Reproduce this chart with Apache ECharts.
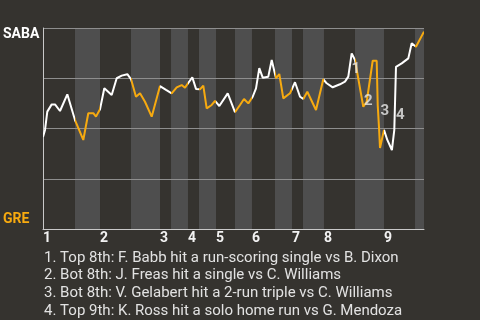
<!DOCTYPE html>
<html>
<head>
<meta charset="utf-8">
<script src="https://cdn.jsdelivr.net/npm/echarts@6/dist/echarts.min.js"></script>
<style>
html,body{margin:0;padding:0;background:#35332f;}
#c{width:480px;height:320px;}
</style>
</head>
<body>
<div id="c"></div>
<script>
// Innings (x axis labels) and half-inning boundaries, in play-index units
const innings = ['1','2','3','4','5','6','7','8','9'];
const inningStarts = [0, 16.16, 33.17, 41.10, 49.04, 59.24, 70.58, 79.65, 96.66];
const halfStarts = [9.07, 24.94, 36.29, 44.22, 54.42, 65.76, 73.70, 88.44, 105.45];
const gameEnd = 108;

// Win probability for SABA (%) at each play
const playIndex = [0, 0.57, 1.22, 2.47, 3.40, 4.82, 6.89, 9.07, 11.42, 12.84,
  14.26, 15.02, 16.16, 17.38, 19.47, 20.89, 22.31, 23.9, 24.94, 26.36,
  27.5, 28.91, 30.81, 33.17, 34.87, 36.48, 37.9, 39.32, 40.25, 42.32,
  43.37, 44.5, 45.44, 46.4, 47.82, 48.76, 49.98, 52.36, 54.42, 55.84,
  56.98, 58.2, 59.44, 60.38, 61.31, 62.28, 63.86, 64.83, 66.05, 66.98,
  68.12, 70.01, 71.43, 72.86, 73.79, 74.92, 77.39, 79.45, 80.42, 82.12,
  84.19, 85.6, 86.54, 87.5, 88.44, 90.79, 91.76, 93.46, 94.59, 94.88,
  95.24, 95.53, 96.66, 97.6, 98.9, 99.58, 100.06, 101.68, 103.55, 104.51,
  105.73, 108];
const sabaWinProb = [45.8, 49.3, 58.4, 62.0, 62.0, 58.7, 67.0, 54.2, 44.3, 57.6,
  57.6, 55.9, 59.6, 70.0, 66.7, 75.0, 76.3, 77.0, 74.6, 65.8,
  67.5, 63.3, 55.9, 71.1, 69.2, 67.5, 70.5, 71.6, 70.3, 75.5,
  69.7, 69.5, 71.3, 60.0, 61.7, 63.7, 61.2, 67.5, 58.1, 61.7,
  64.7, 62.5, 65.8, 70.0, 80.0, 75.3, 75.8, 84.1, 75.0, 77.1,
  65.0, 67.5, 73.0, 65.8, 64.7, 68.3, 59.2, 74.5, 72.5, 70.5,
  72.0, 73.3, 75.8, 87.4, 84.1, 60.8, 63.3, 83.7, 83.7, 61.7,
  50.7, 40.3, 49.3, 44.3, 39.3, 49.3, 80.7, 82.4, 84.9, 92.4,
  90.7, 98.2];

// Key events: index of the play and note text
const eventPlay = [63, 65, 69, 75];
const eventNotes = [
  '1. Top 8th: F. Babb hit a run-scoring single vs B. Dixon',
  '2. Bot 8th: J. Freas hit a single vs C. Williams',
  '3. Bot 8th: V. Gelabert hit a 2-run triple vs C. Williams',
  '4. Top 9th: K. Ross hit a solo home run vs G. Mendoza'
];
const teamTop = 'SABA';
const teamBottom = 'GRE';

const WHITE = '#ffffff';
const ORANGE = '#f7aa0f';
const eventLabelOffsets = [[4, 16], [5, -6], [7, 6], [6, -15]];

const lineData = playIndex.map((x, i) => [x, sabaWinProb[i]]);

const pieces = [];
const bands = [];
for (let i = 0; i < innings.length; i++) {
  const next = i + 1 < inningStarts.length ? inningStarts[i + 1] : gameEnd;
  pieces.push({gte: inningStarts[i], lt: halfStarts[i], color: WHITE});
  pieces.push({gte: halfStarts[i], lte: next, color: ORANGE});
  bands.push([{xAxis: halfStarts[i]}, {xAxis: next}]);
}

function inningLabel(v) {
  let best = -1, bd = Infinity;
  inningStarts.forEach((s, k) => { const d = Math.abs(s - v); if (d < bd) { bd = d; best = k; } });
  return bd < 0.5 ? innings[best] : '';
}

const chart = echarts.init(document.getElementById('c'), null, {renderer: 'canvas'});
chart.setOption({
  animation: false,
  backgroundColor: '#35332f',
  textStyle: {fontFamily: 'Roboto'},
  title: {
    text: eventNotes.join('\n'),
    left: 39,
    top: 244,
    textStyle: {color: '#e2e2e2', fontSize: 15, fontWeight: 'normal', lineHeight: 17.8, fontFamily: 'Roboto'}
  },
  grid: {left: 43, right: 56, top: 28, bottom: 91},
  xAxis: {
    type: 'value', min: 0, max: gameEnd, z: 3,
    splitLine: {show: false},
    axisTick: {show: false},
    axisLine: {show: true, lineStyle: {color: '#c8c8c8', width: 1}},
    axisLabel: {
      customValues: inningStarts,
      formatter: (v) => inningLabel(v),
      align: 'left', margin: 2, hideOverlap: false,
      color: '#f2f2f2', fontSize: 14, fontWeight: 'bold', fontFamily: 'Roboto'
    }
  },
  yAxis: {
    type: 'value', min: 0, max: 100, interval: 25, z: 3,
    splitLine: {show: true, lineStyle: {color: '#8e8e8e', width: 1}},
    axisTick: {show: false},
    axisLine: {show: true, lineStyle: {color: '#c8c8c8', width: 1}},
    axisLabel: {
      align: 'left', margin: 40,
      formatter: (v) => v === 100 ? '{s|' + teamTop + '}' : (v === 0 ? '{g|' + teamBottom + '}' : ''),
      rich: {
        s: {color: '#ffffff', fontSize: 14, fontWeight: 'bold', fontFamily: 'Roboto', padding: [12, 0, 0, 0]},
        g: {color: ORANGE, fontSize: 14, fontWeight: 'bold', fontFamily: 'Roboto', padding: [0, 0, 19, 0]}
      }
    }
  },
  visualMap: {
    type: 'piecewise', show: false, dimension: 0, seriesIndex: 0,
    pieces: pieces
  },
  series: [
    {
      type: 'line', z: 5,
      data: lineData,
      showSymbol: false,
      lineStyle: {width: 2},
      markArea: {
        silent: true, z: 1,
        itemStyle: {color: '#4e4e4e'},
        data: bands
      }
    },
    {
      type: 'scatter', z: 6,
      symbolSize: 1,
      itemStyle: {color: 'rgba(0,0,0,0)'},
      data: eventPlay.map((p, k) => ({
        value: lineData[p],
        label: {offset: eventLabelOffsets[k]}
      })),
      label: {
        show: true, position: 'inside',
        formatter: (p) => String(p.dataIndex + 1),
        color: '#e8e8e8', fontSize: 15, fontWeight: 'bold', fontFamily: 'Roboto'
      }
    }
  ]
});
</script>
</body>
</html>
